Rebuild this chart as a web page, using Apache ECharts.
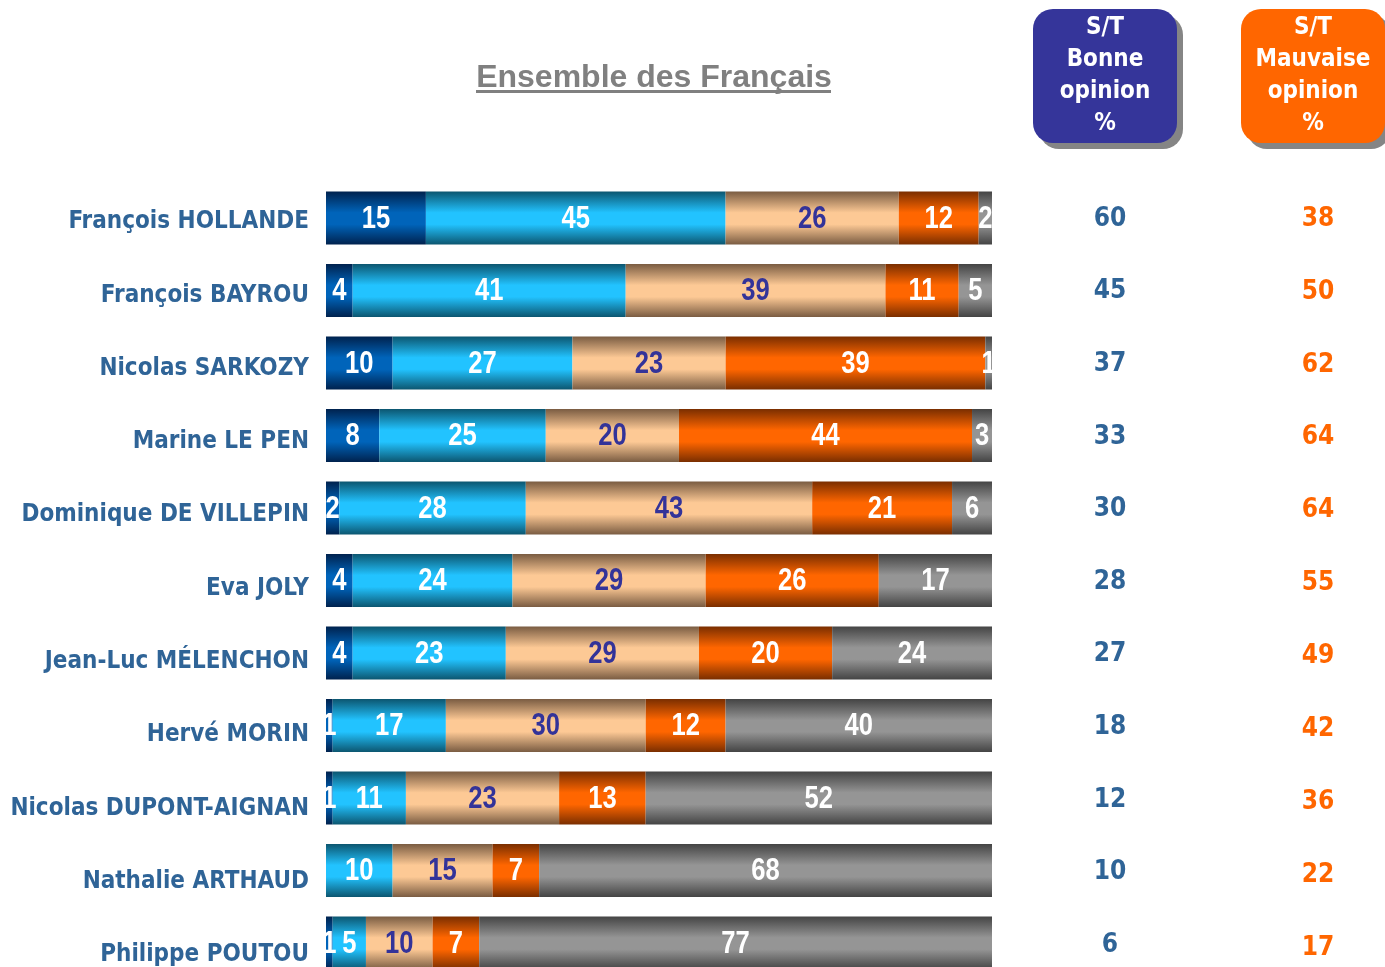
<!DOCTYPE html>
<html>
<head>
<meta charset="utf-8">
<script src="https://cdn.jsdelivr.net/npm/echarts@6/dist/echarts.min.js"></script>
<style>
  html, body { margin: 0; padding: 0; background: #fff; }
  #chart { width: 1385px; height: 967px; }
</style>
</head>
<body>
<div id="chart"></div>
<script>
// personnalités
const names = [
  'François HOLLANDE', 'François BAYROU', 'Nicolas SARKOZY', 'Marine LE PEN',
  'Dominique DE VILLEPIN', 'Eva JOLY', 'Jean-Luc MÉLENCHON', 'Hervé MORIN',
  'Nicolas DUPONT-AIGNAN', 'Nathalie ARTHAUD', 'Philippe POUTOU'
];
// segments (%)
const tresBonne   = [15, 4, 10, 8, 2, 4, 4, 1, 1, 0, 1];
const plutotBonne = [45, 41, 27, 25, 28, 24, 23, 17, 11, 10, 5];
const plutotMauv  = [26, 39, 23, 20, 43, 29, 29, 30, 23, 15, 10];
const tresMauv    = [12, 11, 39, 44, 21, 26, 20, 12, 13, 7, 7];
const nsp         = [2, 5, 1, 3, 6, 17, 24, 40, 52, 68, 77];
// sous-totaux
const stBonne     = [60, 45, 37, 33, 30, 28, 27, 18, 12, 10, 6];
const stMauvaise  = [38, 50, 62, 64, 64, 55, 49, 42, 36, 22, 17];

const segments = [tresBonne, plutotBonne, plutotMauv, tresMauv, nsp];
const segNames = ['Très bonne opinion', 'Plutôt bonne opinion', 'Plutôt mauvaise opinion',
  'Très mauvaise opinion', 'Ne se prononcent pas'];
const segEdge = ['#00224e', '#0c5670', '#7a5c42', '#7a2e00', '#444444'];
const segMid  = ['#0064ba', '#22c3ff', '#fdc995', '#ff6600', '#959595'];
const segTxt  = ['#ffffff', '#ffffff', '#333399', '#ffffff', '#ffffff'];

const chart = echarts.init(document.getElementById('chart'));

function grad(edge, mid) {
  return new echarts.graphic.LinearGradient(0, 0, 0, 1, [
    { offset: 0, color: edge },
    { offset: 0.4, color: mid },
    { offset: 0.62, color: mid },
    { offset: 1, color: edge }
  ]);
}

const nameFont = '"DejaVu Sans Condensed", Tahoma, sans-serif';

// étiquettes des segments : milieu de chaque segment, police étroite
const labelData = [];
names.forEach((n, i) => {
  let cum = 0;
  segments.forEach((arr, s) => {
    const v = arr[i];
    if (v > 0) labelData.push([cum + v / 2, i, v, s]);
    cum += v;
  });
});

function column(data, color, gridIdx) {
  return {
    type: 'scatter',
    xAxisIndex: gridIdx,
    yAxisIndex: gridIdx,
    symbolSize: 0,
    itemStyle: { opacity: 1 },
    data: data.map((v, i) => [0, i, v]),
    label: {
      show: true,
      position: 'inside',
      color: color,
      opacity: 1,
      fontFamily: nameFont,
      fontWeight: 'bold',
      fontSize: 26,
      formatter: p => p.value[2]
    },
    emphasis: { disabled: true }
  };
}

const hiddenX = (i, min, max) => ({
  type: 'value', gridIndex: i, min: min, max: max, show: false
});
const hiddenY = (i, lbl) => ({
  type: 'category', gridIndex: i, data: names, inverse: true, boundaryGap: false,
  axisLine: { show: false }, axisTick: { show: false },
  axisLabel: lbl || { show: false }
});

const option = {
  backgroundColor: '#ffffff',
  animation: false,
  grid: [
    { left: 326, width: 666, top: 218, height: 725 },
    { left: 310, width: 10, top: 222, height: 734 },
    { left: 1060, width: 100, top: 219, height: 726 },
    { left: 1268, width: 100, top: 219, height: 729 }
  ],
  xAxis: [
    hiddenX(0, 0, 100),
    hiddenX(1, 0, 1),
    hiddenX(2, -1, 1),
    hiddenX(3, -1, 1)
  ],
  yAxis: [
    hiddenY(0),
    hiddenY(1, {
      show: true,
      margin: 1,
      color: '#2f6497',
      fontFamily: nameFont,
      fontWeight: 'bold',
      fontSize: 24
    }),
    hiddenY(2),
    hiddenY(3)
  ],
  series: segments.map((arr, s) => ({
    name: segNames[s],
    type: 'bar',
    stack: 'tot',
    xAxisIndex: 0,
    yAxisIndex: 0,
    barWidth: 53,
    data: arr,
    itemStyle: { color: grad(segEdge[s], segMid[s]) },
    emphasis: { disabled: true }
  })).concat([
    {
      type: 'custom',
      xAxisIndex: 0,
      yAxisIndex: 0,
      data: labelData,
      silent: true,
      z: 10,
      renderItem: (params, api) => {
        const p = api.coord([api.value(0), api.value(1)]);
        return {
          type: 'text',
          x: p[0],
          y: p[1] + 1,
          scaleX: 0.8,
          style: {
            text: String(api.value(2)),
            fill: segTxt[api.value(3)],
            font: 'bold 32px "Liberation Sans", Arial, sans-serif',
            align: 'center',
            verticalAlign: 'middle'
          }
        };
      }
    },
    column(stBonne, '#2f6497', 2),
    column(stMauvaise, '#ff6600', 3)
  ]),
  graphic: [
    {
      type: 'text',
      style: {
        x: 654, y: 78, text: 'Ensemble des Français',
        fill: '#808080', font: 'bold 32px "Liberation Sans", Arial, sans-serif',
        align: 'center', verticalAlign: 'middle'
      }
    },
    { type: 'rect', shape: { x: 476, y: 90, width: 355, height: 3 }, style: { fill: '#808080' } },
    // en-têtes
    { type: 'rect', shape: { x: 1039, y: 15, width: 144, height: 134, r: 20 }, style: { fill: '#858585' } },
    { type: 'rect', shape: { x: 1033, y: 9, width: 144, height: 134, r: 20 }, style: { fill: '#35359a' } },
    {
      type: 'text',
      style: {
        x: 1105, y: 12, text: 'S/T\nBonne\nopinion\n%',
        fill: '#ffffff', font: 'bold 24px ' + nameFont, lineHeight: 32,
        align: 'center', verticalAlign: 'top'
      }
    },
    { type: 'rect', shape: { x: 1247, y: 15, width: 144, height: 134, r: 20 }, style: { fill: '#858585' } },
    { type: 'rect', shape: { x: 1241, y: 9, width: 144, height: 134, r: 20 }, style: { fill: '#ff6600' } },
    {
      type: 'text',
      style: {
        x: 1313, y: 12, text: 'S/T\nMauvaise\nopinion\n%',
        fill: '#ffffff', font: 'bold 24px ' + nameFont, lineHeight: 32,
        align: 'center', verticalAlign: 'top'
      }
    }
  ]
};

chart.setOption(option);
</script>
</body>
</html>
